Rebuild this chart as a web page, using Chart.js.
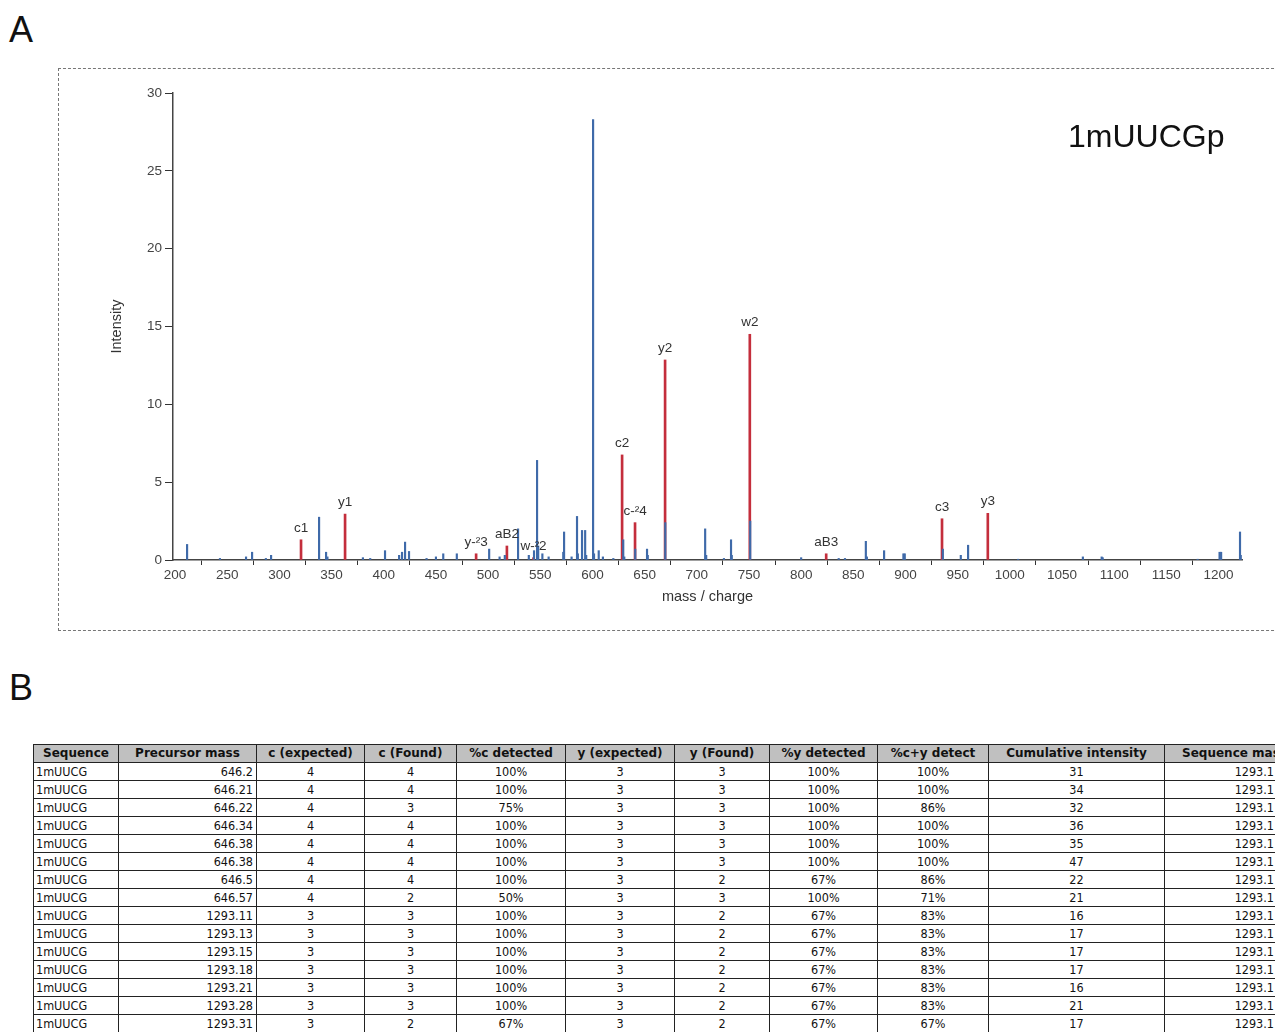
<!DOCTYPE html>
<html>
<head>
<meta charset="utf-8">
<script src="https://cdn.jsdelivr.net/npm/chart.js@4.4.1/dist/chart.umd.min.js"></script>
<style>
  html, body { margin: 0; padding: 0; background: #fff; }
  body { width: 1275px; height: 1032px; overflow: hidden; position: relative; font-family: "Liberation Sans", Arial, sans-serif; }
  .letter { position: absolute; left: 9px; font-size: 36px; line-height: 36px; color: #111; }
  #box { position: absolute; left: 58px; top: 68px; width: 1240px; height: 561px; border: 1px dashed #777; border-right: none; }
  #spectrum { position: absolute; left: 0; top: 60px; }
  #seqName { position: absolute; left: 1068px; top: 120px; font-size: 32px; line-height: 32px; color: #111; }
  table { position: absolute; left: 33px; top: 744px; width: 1271px; border-collapse: collapse; table-layout: fixed;
          font-family: "DejaVu Sans Condensed", "DejaVu Sans", sans-serif; font-size: 12.5px; color: #111; }
  th, td { border: 1px solid #222; height: 17px; line-height: 17px; padding: 0 3px; white-space: nowrap; overflow: hidden; }
  th { background: #c0c0c0; font-family: "DejaVu Sans", sans-serif; font-size: 12px; font-weight: bold; text-align: center; }
  td { text-align: center; }
  td.l { text-align: left; padding-left: 2px; }
  td.r { text-align: right; }
  td.last { text-align: right; padding-right: 30px; }
</style>
</head>
<body>
<div class="letter" style="top:12px">A</div>
<div id="box"></div>
<canvas id="spectrum" width="1275" height="580"></canvas>
<div id="seqName">1mUUCGp</div>

<div class="letter" style="top:670px">B</div>
<table id="summary"></table>

<script>
// Spectrum peaks (m/z, intensity) - unassigned peaks in blue
var peakMz  = [211.5, 243, 268, 273.8, 287, 292, 338, 344.7, 346, 380, 387, 401.2, 414.7, 417.5, 420.4, 424.2,
               441, 450, 457, 470, 501, 511, 516, 528.7, 539, 544, 546.9, 548, 552, 558, 572, 572.8, 580,
               585.2, 586, 590, 593, 594, 600.6, 601.5, 606, 610, 620, 629.5, 630.5, 641, 652.3, 653, 669.8,
               708, 709, 726, 732.8, 733.5, 751.2, 800, 836, 842, 862, 863, 879.5, 898, 899.3, 935.8,
               953, 960, 1008, 1070, 1088, 1089, 1180, 1201, 1202.5, 1220.6, 1221.3];
var peakInt = [1.0, 0.1, 0.2, 0.5, 0.1, 0.3, 2.75, 0.5, 0.2, 0.15, 0.1, 0.6, 0.3, 0.5, 1.15, 0.55,
               0.1, 0.2, 0.4, 0.4, 0.7, 0.2, 0.3, 2.0, 0.3, 0.6, 6.4, 0.9, 0.4, 0.2, 0.5, 1.8, 0.2,
               2.8, 0.4, 1.9, 1.9, 0.3, 28.3, 0.4, 0.6, 0.2, 0.1, 1.3, 0.2, 0.7, 0.7, 0.3, 2.4,
               2.0, 0.3, 0.1, 1.3, 0.3, 2.5, 0.15, 0.1, 0.1, 1.2, 0.2, 0.6, 0.4, 0.4, 0.7,
               0.3, 0.95, 0.05, 0.2, 0.2, 0.15, 0.05, 0.5, 0.5, 1.8, 0.3];

// Assigned fragment ions (red)
var ionMz     = [320.7, 362.9, 488.5, 518, 543.5, 628.4, 640.8, 669.6, 750.8, 824, 935, 978.9];
var ionInt    = [1.3, 2.95, 0.4, 0.9, 0.15, 6.75, 2.4, 12.85, 14.5, 0.4, 2.65, 3.0];
var ionLabels = ['c1', 'y1', 'y-\u00b23', 'aB2', 'w-\u00b22', 'c2', 'c-\u00b24', 'y2', 'w2', 'aB3', 'c3', 'y3'];

var xTicks = [200, 250, 300, 350, 400, 450, 500, 550, 600, 650, 700, 750, 800, 850, 900, 950, 1000, 1050, 1100, 1150, 1200];
var yTicks = [0, 5, 10, 15, 20, 25, 30];

// Table columns
var colHeaders = ['Sequence', 'Precursor mass', 'c (expected)', 'c (Found)', '%c detected', 'y (expected)',
                  'y (Found)', '%y detected', '%c+y detect', 'Cumulative intensity', 'Sequence mass'];
var colWidths  = [85, 138, 108, 92, 109, 109, 95, 108, 111, 176, 140];
var sequences  = ['1mUUCG', '1mUUCG', '1mUUCG', '1mUUCG', '1mUUCG', '1mUUCG', '1mUUCG', '1mUUCG',
                  '1mUUCG', '1mUUCG', '1mUUCG', '1mUUCG', '1mUUCG', '1mUUCG', '1mUUCG'];
var precursor  = ['646.2', '646.21', '646.22', '646.34', '646.38', '646.38', '646.5', '646.57',
                  '1293.11', '1293.13', '1293.15', '1293.18', '1293.21', '1293.28', '1293.31'];
var cExpected  = [4, 4, 4, 4, 4, 4, 4, 4, 3, 3, 3, 3, 3, 3, 3];
var cFound     = [4, 4, 3, 4, 4, 4, 4, 2, 3, 3, 3, 3, 3, 3, 2];
var cPct       = [100, 100, 75, 100, 100, 100, 100, 50, 100, 100, 100, 100, 100, 100, 67];
var yExpected  = [3, 3, 3, 3, 3, 3, 3, 3, 3, 3, 3, 3, 3, 3, 3];
var yFound     = [3, 3, 3, 3, 3, 3, 2, 3, 2, 2, 2, 2, 2, 2, 2];
var yPct       = [100, 100, 100, 100, 100, 100, 67, 100, 67, 67, 67, 67, 67, 67, 67];
var cyPct      = [100, 100, 86, 100, 100, 100, 86, 71, 83, 83, 83, 83, 83, 83, 67];
var cumInt     = [31, 34, 32, 36, 35, 47, 22, 21, 16, 17, 17, 17, 16, 21, 17];
var seqMass    = ['1293.1', '1293.1', '1293.1', '1293.1', '1293.1', '1293.1', '1293.1', '1293.1',
                  '1293.1', '1293.1', '1293.1', '1293.1', '1293.1', '1293.1', '1293.1'];

(function () {
    'use strict';

    // Build table B.
    var table = document.getElementById('summary');
    var html = '<colgroup>';
    colWidths.forEach(function (w) { html += '<col style="width:' + w + 'px">'; });
    html += '</colgroup><tr>';
    colHeaders.forEach(function (h) { html += '<th>' + h + '</th>'; });
    html += '</tr>';
    for (var i = 0; i < sequences.length; i++) {
        html += '<tr>' +
            '<td class="l">' + sequences[i] + '</td>' +
            '<td class="r">' + precursor[i] + '</td>' +
            '<td>' + cExpected[i] + '</td>' +
            '<td>' + cFound[i] + '</td>' +
            '<td>' + cPct[i] + '%</td>' +
            '<td>' + yExpected[i] + '</td>' +
            '<td>' + yFound[i] + '</td>' +
            '<td>' + yPct[i] + '%</td>' +
            '<td>' + cyPct[i] + '%</td>' +
            '<td>' + cumInt[i] + '</td>' +
            '<td class="last">' + seqMass[i] + '</td>' +
            '</tr>';
    }
    table.innerHTML = html;

    // Labels above the assigned ions.
    var ionLabelPlugin = {
        id: 'ionLabels',
        afterDatasetsDraw: function (chart) {
            var meta = chart.getDatasetMeta(1);
            var ctx = chart.ctx;
            ctx.save();
            ctx.font = '13.5px "Liberation Sans", Arial, sans-serif';
            ctx.fillStyle = '#333';
            ctx.textAlign = 'center';
            ctx.textBaseline = 'bottom';
            meta.data.forEach(function (bar, i) {
                ctx.fillText(ionLabels[i], bar.x, bar.y - 5);
            });
            ctx.restore();
        }
    };

    var axisFont = { family: '"Liberation Sans", Arial, sans-serif', size: 13.5 };

    new Chart(document.getElementById('spectrum'), {
        type: 'bar',
        data: {
            datasets: [{
                label: 'peaks',
                data: peakMz.map(function (m, i) { return { x: m, y: peakInt[i] }; }),
                backgroundColor: '#3f6aa9',
                barThickness: 1.5
            }, {
                label: 'ions',
                data: ionMz.map(function (m, i) { return { x: m, y: ionInt[i] }; }),
                backgroundColor: '#c42e3c',
                barThickness: 2
            }]
        },
        options: {
            responsive: false,
            animation: false,
            layout: { padding: { left: 104, right: 33, top: 33, bottom: 30 } },
            datasets: { bar: { grouped: false } },
            plugins: {
                legend: { display: false },
                tooltip: { enabled: false }
            },
            scales: {
                x: {
                    type: 'linear',
                    min: 198,
                    max: 1222.5,
                    offset: false,
                    afterBuildTicks: function (s) { s.ticks = xTicks.map(function (v) { return { value: v }; }); },
                    afterFit: function (s) { s.height = 50; },
                    grid: { display: true, drawOnChartArea: false, drawTicks: true, tickLength: 5, color: '#333' },
                    border: { display: true, color: '#444', width: 1.5 },
                    ticks: {
                        font: axisFont, color: '#444', padding: 2, maxRotation: 0, autoSkip: false,
                        callback: function (v) { return String(v); }
                    },
                    title: { display: true, text: 'mass / charge', font: { family: axisFont.family, size: 14.5 }, color: '#333' }
                },
                y: {
                    min: 0,
                    max: 30,
                    afterBuildTicks: function (s) { s.ticks = yTicks.map(function (v) { return { value: v }; }); },
                    afterFit: function (s) { s.width = 69; },
                    grid: { display: true, drawOnChartArea: false, drawTicks: true, tickLength: 8, color: '#333' },
                    border: { display: true, color: '#444', width: 1.5 },
                    ticks: { font: axisFont, color: '#444', padding: 3 },
                    title: { display: true, text: 'Intensity', font: { family: axisFont.family, size: 14.5 }, color: '#333' }
                }
            }
        },
        plugins: [ionLabelPlugin]
    });
})();
</script>
</body>
</html>
